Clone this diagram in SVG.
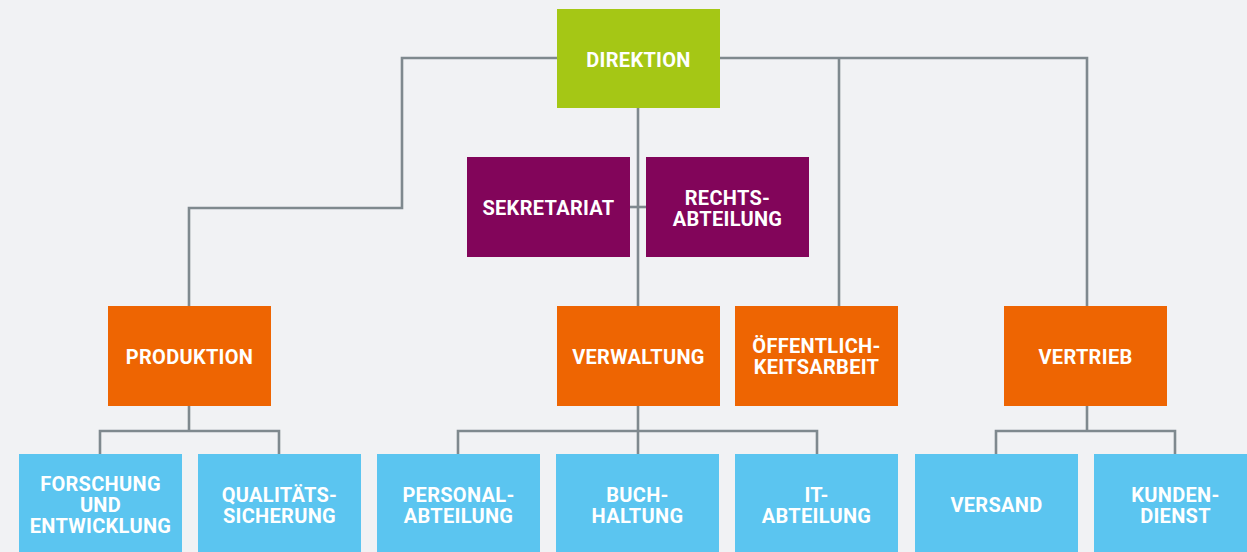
<svg xmlns="http://www.w3.org/2000/svg" width="1247" height="552" viewBox="0 0 1247 552">
  <style>
    .bg { fill: #f1f2f4; }
    .link { fill: none; stroke: #7f898e; stroke-width: 2.6; stroke-linejoin: miter; stroke-linecap: butt; }
    .head { fill: #a5c715; }
    .staff { fill: #82055a; }
    .dept { fill: #ee6502; }
    .unit { fill: #5bc5f0; }
    text { font-family: Roboto, "Liberation Sans", Arial, sans-serif; font-weight: 700; font-size: 20px; fill: #ffffff; text-anchor: middle; letter-spacing: 0.3px; }
  </style>
  <rect class="bg" x="0" y="0" width="1247" height="552"/>

  <g id="connectors">
    <path class="link" d="M638,58 H402 V208 H189 V306"/>
    <path class="link" d="M638,58 H1087 V306"/>
    <path class="link" d="M839,58 V306"/>
    <path class="link" d="M638,108 V306"/>
    <path class="link" d="M630,207 H646"/>
    <path class="link" d="M189,405 V431"/>
    <path class="link" d="M100,454 V431 H279 V454"/>
    <path class="link" d="M638,405 V454"/>
    <path class="link" d="M458,454 V431 H817 V454"/>
    <path class="link" d="M1087,405 V431"/>
    <path class="link" d="M996,454 V431 H1175 V454"/>
  </g>

  <g id="direktion">
    <rect class="head" x="557" y="9" width="163" height="99"/>
    <text x="638.5" y="66.5">DIREKTION</text>
  </g>

  <g id="sekretariat">
    <rect class="staff" x="467" y="157" width="163" height="100"/>
    <text x="548.5" y="215">SEKRETARIAT</text>
  </g>
  <g id="rechtsabteilung">
    <rect class="staff" x="646" y="157" width="163" height="100"/>
    <text x="727.5" y="204.5">RECHTS-</text>
    <text x="727.5" y="225.5">ABTEILUNG</text>
  </g>

  <g id="produktion">
    <rect class="dept" x="108" y="306" width="163" height="100"/>
    <text x="189.5" y="363.5">PRODUKTION</text>
  </g>
  <g id="verwaltung">
    <rect class="dept" x="557" y="306" width="163" height="100"/>
    <text x="638.5" y="363.5">VERWALTUNG</text>
  </g>
  <g id="oeffentlichkeitsarbeit">
    <rect class="dept" x="735" y="306" width="163" height="100"/>
    <text x="816.5" y="353">ÖFFENTLICH-</text>
    <text x="816.5" y="374">KEITSARBEIT</text>
  </g>
  <g id="vertrieb">
    <rect class="dept" x="1004" y="306" width="163" height="100"/>
    <text x="1085.5" y="363.5">VERTRIEB</text>
  </g>

  <g id="forschung">
    <rect class="unit" x="19" y="454" width="163" height="100"/>
    <text x="100.5" y="491">FORSCHUNG</text>
    <text x="100.5" y="512">UND</text>
    <text x="100.5" y="533">ENTWICKLUNG</text>
  </g>
  <g id="qualitaetssicherung">
    <rect class="unit" x="198" y="454" width="163" height="100"/>
    <text x="279.5" y="501.5">QUALITÄTS-</text>
    <text x="279.5" y="522.5">SICHERUNG</text>
  </g>
  <g id="personalabteilung">
    <rect class="unit" x="377" y="454" width="163" height="100"/>
    <text x="458.5" y="501.5">PERSONAL-</text>
    <text x="458.5" y="522.5">ABTEILUNG</text>
  </g>
  <g id="buchhaltung">
    <rect class="unit" x="556" y="454" width="163" height="100"/>
    <text x="637.5" y="501.5">BUCH-</text>
    <text x="637.5" y="522.5">HALTUNG</text>
  </g>
  <g id="it-abteilung">
    <rect class="unit" x="735" y="454" width="163" height="100"/>
    <text x="816.5" y="501.5">IT-</text>
    <text x="816.5" y="522.5">ABTEILUNG</text>
  </g>
  <g id="versand">
    <rect class="unit" x="915" y="454" width="163" height="100"/>
    <text x="996.5" y="512">VERSAND</text>
  </g>
  <g id="kundendienst">
    <rect class="unit" x="1094" y="454" width="163" height="100"/>
    <text x="1175.5" y="501.5">KUNDEN-</text>
    <text x="1175.5" y="522.5">DIENST</text>
  </g>
</svg>
